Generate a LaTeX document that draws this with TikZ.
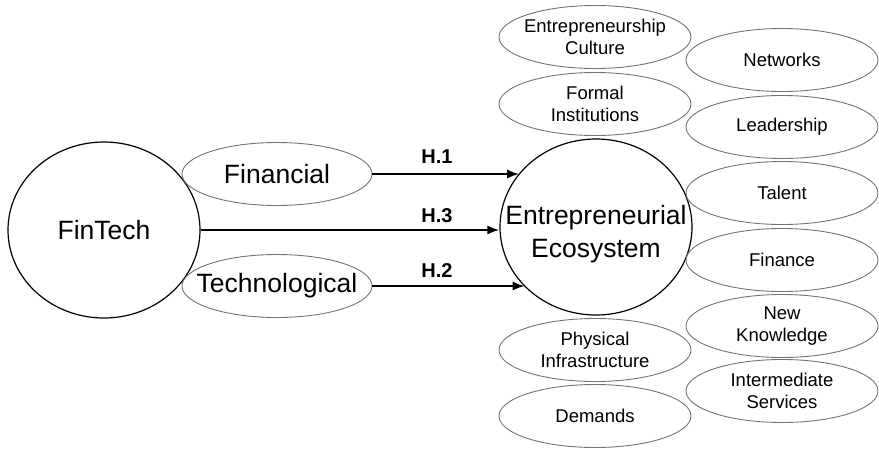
\documentclass[tikz,border=0pt]{standalone}
\usepackage{fontspec}
\setmainfont{Liberation Sans}
\usetikzlibrary{shapes.geometric,arrows.meta}

% negative inner sep keeps the ellipses at their minimum size
\tikzset{
  big/.style={draw=black,line width=1.2pt,ellipse,inner xsep=-80pt,inner ysep=-30pt,minimum width=192pt,minimum height=176pt,align=center,font=\fontsize{26.5}{33}\selectfont},
  dim/.style={draw=black!55,line width=0.9pt,ellipse,inner xsep=-80pt,inner ysep=-20pt,minimum width=190pt,minimum height=63pt,align=center,font=\fontsize{26.5}{33}\selectfont},
  factor/.style={draw=black!55,line width=0.9pt,ellipse,inner xsep=-80pt,inner ysep=-20pt,minimum width=192pt,minimum height=63pt,align=center,font=\fontsize{18.5}{22}\selectfont},
  hyp/.style={font=\bfseries\fontsize{20}{24}\selectfont},
}

\begin{document}
\begin{tikzpicture}[x=1pt,y=-1pt,>={Latex[length=12pt,width=9pt]}]
  \useasboundingbox (0,0) rectangle (879,448);
  \node[big] (ft) at (104,230) {FinTech};
  \node[dim] (fin) at (277,174) {Financial};
  \node[dim] (tech) at (277,286) {Technological};
  \node[big,text height=66pt] (eco) at (596,227) {Entrepreneurial\\Ecosystem};
  % ecosystem domains, left column
  \node[factor] (cult) at (595,37) {Entrepreneurship\\Culture};
  \node[factor] (inst) at (595,104) {Formal\\Institutions};
  \node[factor] (infra) at (595,350) {Physical\\Infrastructure};
  \node[factor] (dem) at (595,416) {Demands};
  % right column
  \node[factor] (net) at (782,60) {Networks};
  \node[factor] (lead) at (782,127) {Leadership};
  \node[factor] (tal) at (782,193) {Talent};
  \node[factor] (finc) at (782,260) {Finance};
  \node[factor] (know) at (782,326) {New\\Knowledge};
  \node[factor] (serv) at (782,391) {Intermediate\\Services};
  % hypotheses
  \node[hyp] (h1) at (437,157) {H.1};
  \node[hyp] (h3) at (437,216) {H.3};
  \node[hyp] (h2) at (437,271) {H.2};
  \draw[->,line width=2pt] (fin.east) -- (fin.east -| eco.145);
  \draw[->,line width=2pt] (ft.east) -- (ft.east -| eco.west);
  \draw[->,line width=2pt] (tech.east) -- (tech.east -| eco.220);
\end{tikzpicture}
\end{document}
